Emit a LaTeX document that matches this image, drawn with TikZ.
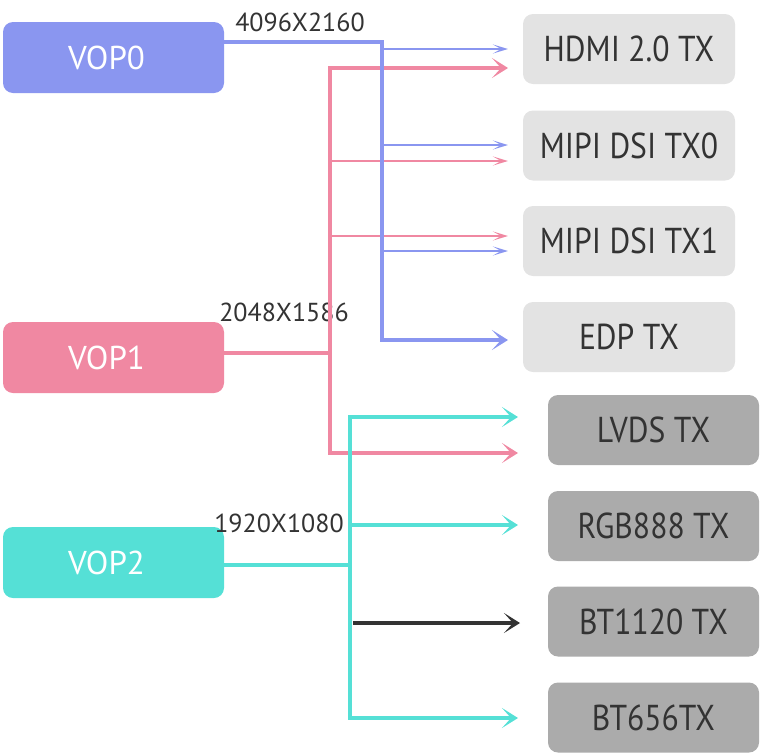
\documentclass[tikz,border=0pt]{standalone}
\usepackage{fontspec}
\setmainfont{PT Sans}
\newfontfamily\condfont[FakeStretch=0.88]{PT Sans}
\usetikzlibrary{arrows.meta}
\definecolor{cblue}{HTML}{8A96F0}
\definecolor{cpink}{HTML}{F088A2}
\definecolor{cteal}{HTML}{55E0D6}
\definecolor{lgray}{HTML}{E3E3E3}
\definecolor{dgray}{HTML}{ABABAB}
\definecolor{tdark}{HTML}{333333}
\begin{document}
\begin{tikzpicture}[x=1pt,y=-1pt,
  vop/.style={rounded corners=10pt, minimum width=221pt, minimum height=71pt, text=white, inner sep=0pt},
  voptext/.style={text=white, font=\fontsize{33}{35}\selectfont, inner sep=0pt},
  txl/.style={rounded corners=10pt, fill=lgray, minimum width=212pt, minimum height=70pt, text=tdark, font=\condfont\fontsize{36}{38}\selectfont, inner sep=0pt},
  txd/.style={txl, fill=dgray, minimum width=211pt},
  res/.style={text=tdark, font=\fontsize{26}{28}\selectfont, inner sep=0pt},
  thick line/.style={line width=4pt},
  thin line/.style={line width=1.8pt},
  bigtip/.style={-{Stealth[length=16pt,width=20pt,inset=9pt]}},
  smalltip/.style={-{Stealth[length=15pt,width=9pt,inset=8pt]}}
]
\useasboundingbox (0,0) rectangle (769,753);
% nodes
\node[vop, fill=cblue] (vop0) at (113.5,57.5) {};
\node[vop, fill=cpink] (vop1) at (113.5,357.5) {};
\node[vop, fill=cteal] (vop2) at (113.5,562.5) {};
\node[voptext] (l0) at ([xshift=-7pt]vop0.center) {VOP0};
\node[voptext] (l1) at ([xshift=-7pt]vop1.center) {VOP1};
\node[voptext] (l2) at ([xshift=-7pt]vop2.center) {VOP2};
\node[txl] (hdmi) at (629,49) {HDMI 2.0 TX};
\node[txl] (dsi0) at (629,145.5) {MIPI DSI TX0};
\node[txl] (dsi1) at (629,241) {MIPI DSI TX1};
\node[txl] (edp) at (629,337) {EDP TX};
\node[txd] (lvds) at (653.5,430) {LVDS TX};
\node[txd] (rgb) at (653.5,526) {RGB888 TX};
\node[txd] (bt1120) at (653.5,621.5) {BT1120 TX};
\node[txd] (bt656) at (653.5,717.5) {BT656TX};
\node[res] (r0) at (300,22) {4096X2160};
\node[res] (r1) at (284,312) {2048X1586};
\node[res] (r2) at (279,523) {1920X1080};
% coordinates
\coordinate (b0) at (224,42);
\coordinate (bt) at (382,42);
\coordinate (bb) at (382,340);
\coordinate (be) at (508,340);
\coordinate (bh) at (382,49);
\coordinate (bhe) at (508,49);
\coordinate (bd0) at (382,145);
\coordinate (bd0e) at (508,145);
\coordinate (bd1) at (382,251);
\coordinate (bd1e) at (508,251);
\coordinate (p0) at (224,353);
\coordinate (pm) at (330,353);
\coordinate (pt) at (330,68);
\coordinate (pte) at (508,68);
\coordinate (pb) at (330,453);
\coordinate (pbe) at (518,453);
\coordinate (pd0) at (330,161);
\coordinate (pd0e) at (508,161);
\coordinate (pd1) at (330,236);
\coordinate (pd1e) at (508,236);
\coordinate (t0) at (224,565);
\coordinate (tm) at (350,565);
\coordinate (tt) at (350,417);
\coordinate (tte) at (518,417);
\coordinate (tr) at (350,525);
\coordinate (tre) at (518,525);
\coordinate (tb) at (350,718);
\coordinate (tbe) at (518,718);
\coordinate (k0) at (353,623);
\coordinate (ke) at (520,623);
% pink
\draw[cpink, thick line] (vop1.east |- p0) -- (pm);
\draw[cpink, thick line, bigtip] (pb) -- (pt) -- (pte);
\draw[cpink, thick line, bigtip] (pt) -- (pb) -- (pbe);
\draw[cpink, thin line, smalltip] (pd0) -- (pd0e);
\draw[cpink, thin line, smalltip] (pd1) -- (pd1e);
% blue
\draw[cblue, thick line, bigtip] (vop0.east |- b0) -- (bt) -- (bb) -- (be);
\draw[cblue, thin line, smalltip] (bh) -- (bhe);
\draw[cblue, thin line, smalltip] (bd0) -- (bd0e);
\draw[cblue, thin line, smalltip] (bd1) -- (bd1e);
% teal
\draw[cteal, thick line] (vop2.east |- t0) -- (tm);
\draw[cteal, thick line, bigtip] (tb) -- (tt) -- (tte);
\draw[cteal, thick line, bigtip] (tt) -- (tb) -- (tbe);
\draw[cteal, thick line, bigtip] (tr) -- (tre);
\draw[tdark, thick line, bigtip] (k0) -- (ke);
\end{tikzpicture}
\end{document}
